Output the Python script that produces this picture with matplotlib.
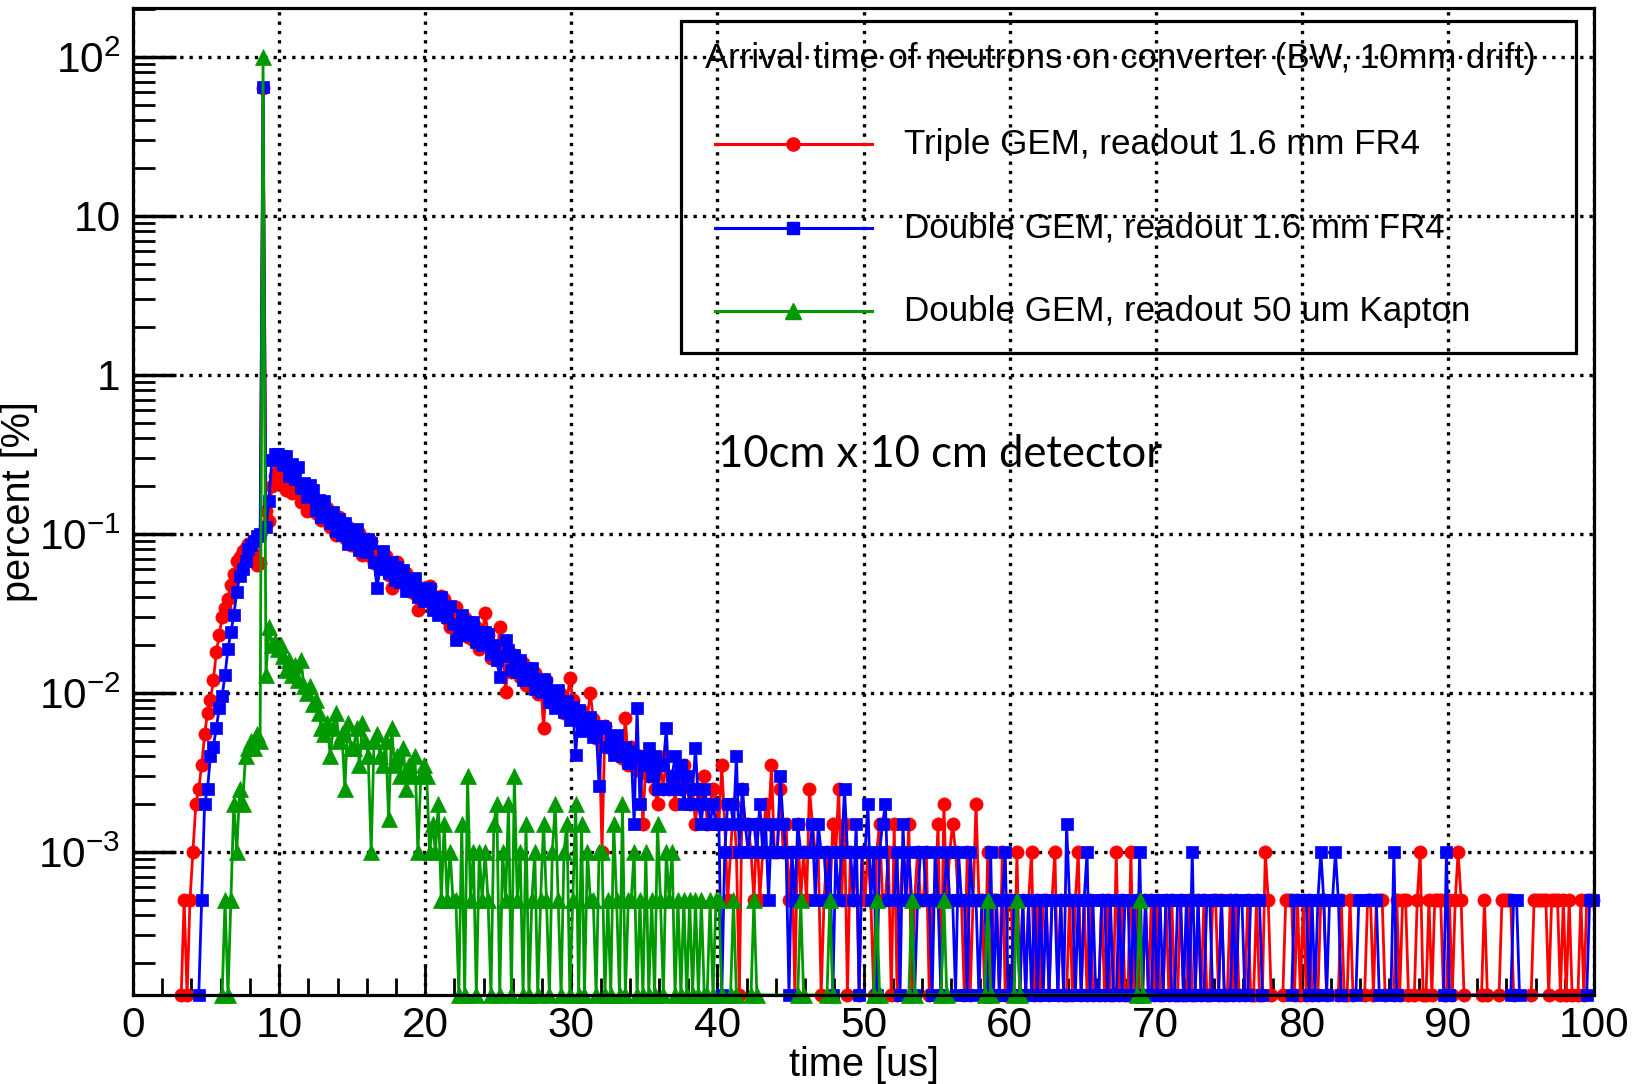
import matplotlib
matplotlib.use('Agg')
import matplotlib.pyplot as plt
import numpy as np
from matplotlib.ticker import MultipleLocator, FixedLocator, LogLocator, FuncFormatter, NullFormatter
from matplotlib.lines import Line2D
from matplotlib.patches import Rectangle

plt.rcParams['font.family'] = ['Liberation Sans', 'DejaVu Sans']
plt.rcParams['mathtext.fontset'] = 'custom'
plt.rcParams['mathtext.rm'] = 'Liberation Sans'

# histogram bins of 0.2 us, one entry = 5e-4 %
BIN = 0.2
ONE = 5e-4

# Triple GEM, readout 1.6 mm FR4 : percent from 3.3 us to 37.9 us
red_start = 3.3
red_pct = [
    0, 5e-4, 0, 5e-4, 1e-3, 2e-3, 2.5e-3, 3.5e-3, 5.5e-3, 7.5e-3,
    9e-3, 0.012, 0.018, 0.023, 0.030, 0.034, 0.039, 0.048, 0.056, 0.068,
    0.072, 0.078, 0.082, 0.086, 0.088, 0.075, 0.064, 0.066, 64.0, 0.14,
    0.12, 0.20, 0.23, 0.25, 0.21, 0.23, 0.19, 0.22, 0.18, 0.21,
    0.207, 0.158, 0.179, 0.14, 0.184, 0.147, 0.135, 0.16, 0.122, 0.146,
    0.146, 0.11, 0.126, 0.098, 0.127, 0.103, 0.094, 0.11, 0.085, 0.103,
    0.083, 0.101, 0.074, 0.088, 0.074, 0.09, 0.066, 0.075, 0.063, 0.077,
    0.073, 0.055, 0.046, 0.051, 0.067, 0.053, 0.049, 0.057, 0.0435, 0.052,
    0.042, 0.033, 0.038, 0.046, 0.039, 0.047, 0.034, 0.04, 0.033, 0.041,
    0.039, 0.029, 0.026, 0.026, 0.0345, 0.0276, 0.025, 0.0297, 0.0226, 0.027,
    0.0216, 0.0258, 0.019, 0.0223, 0.032, 0.023, 0.0167, 0.0198, 0.0162, 0.026,
    0.019, 0.0101, 0.0168, 0.0136, 0.0173, 0.0143, 0.0126, 0.0154, 0.0113, 0.014,
    0.0113, 0.0134, 0.0099, 0.0117, 0.006, 0.0121, 0.0088, 0.0101, 0.0085, 0.0102,
    0.0099, 0.0075, 0.0086, 0.0125, 0.009, 0.0071, 0.0066, 0.0077, 0.0059, 0.0071,
    0.010, 0.0069, 0.0052, 0.0061, 0.001, 0.0062, 0.0046, 0.0052, 0.0043, 0.0053,
    0.005, 0.0039, 0.007, 0.0035, 0.0046, 0.0036, 0.0033, 0.004, 0.0015, 0.0037,
    0.003, 0.0035, 0.0025, 0.002, 0.0035, 0.0025, 0.004, 0.0025, 0.003, 0.002,
    0.003, 0.0025, 0.0035, 0.003,
]
# entries per bin from 38.1 us to 99.9 us
red_tail = ("4535463454" "3731242053" "3213124372" "2523120312" "1532201213"
            "2513021202" "1210231120" "3012130121" "1201130412" "3211020141"
            "1020110201" "1020101201" "0110120100" "1012010100" "0101002010"
            "0201001010" "1001010010" "0100101001" "1010010100" "0100100210"
            "0000111010" "1010001100" "0001001000" "0011011100" "0010110001"
            "2001011100" "1012100000" "0010000011" "1100000001" "1111011101"
            "0100010111")

# Double GEM, readout 1.6 mm FR4 : percent from 4.3 us to 37.9 us
blue_start = 4.3
blue_pct = [
    0, 0, 5e-4, 2e-3, 2.5e-3, 4e-3, 4.6e-3, 6e-3, 8e-3, 0.0096,
    0.013, 0.019, 0.024, 0.031, 0.043, 0.054, 0.060, 0.068, 0.080, 0.085,
    0.090, 0.097, 0.10, 65.0, 0.11, 0.16, 0.29, 0.32, 0.32, 0.31,
    0.27, 0.31, 0.232, 0.276, 0.223, 0.265, 0.194, 0.208, 0.171, 0.203,
    0.19, 0.141, 0.163, 0.128, 0.161, 0.128, 0.117, 0.138, 0.104, 0.124,
    0.099, 0.118, 0.086, 0.106, 0.09, 0.107, 0.079, 0.09, 0.0765, 0.093,
    0.088, 0.067, 0.046, 0.06, 0.078, 0.063, 0.057, 0.067, 0.051, 0.062,
    0.0495, 0.059, 0.044, 0.052, 0.045, 0.053, 0.04, 0.045, 0.038, 0.046,
    0.045, 0.033, 0.039, 0.031, 0.04, 0.032, 0.03, 0.035, 0.027, 0.0215,
    0.026, 0.031, 0.023, 0.028, 0.023, 0.028, 0.021, 0.024, 0.02, 0.024,
    0.0235, 0.0176, 0.02, 0.016, 0.0126, 0.017, 0.0215, 0.0187, 0.0139, 0.0173,
    0.0135, 0.0162, 0.012, 0.0143, 0.0121, 0.0144, 0.0106, 0.0121, 0.0101, 0.0122,
    0.0116, 0.0088, 0.0102, 0.008, 0.0104, 0.0083, 0.0076, 0.0089, 0.0068, 0.0081,
    0.0041, 0.0078, 0.0058, 0.007, 0.006, 0.0071, 0.0053, 0.006, 0.0026, 0.0062,
    0.006, 0.0046, 0.0053, 0.0041, 0.0054, 0.0043, 0.004, 0.0046, 0.0036, 0.0043,
    0.0015, 0.008, 0.002, 0.004, 0.0035, 0.0045, 0.003, 0.004, 0.0025, 0.0035,
    0.0035, 0.006, 0.0025, 0.003, 0.004, 0.0025, 0.0035, 0.002, 0.003,
]
blue_tail = ("4594354343" "3024438253" "2332423132" "2632021322" "2231322120"
             "2125221302" "2412023411" "1203121012" "2110210121" "1021102110"
             "1102010120" "0110101010" "1010110103" "1101012010" "0110100101"
             "1010201001" "0101100110" "1020100110" "0010001011" "0011110000"
             "0000000111" "1101012101" "1210000001" "1111110000" "0200000000"
             "0000000002" "0000000000" "0000000000" "0011000000" "0000000000"
             "0000000011")

# Double GEM, readout 50 um Kapton : percent from 6.1 us to 19.9 us
green_start = 6.1
green_pct = [
    0, 5e-4, 0, 5e-4, 2e-3, 1e-3, 2.5e-3, 2e-3, 4e-3, 4.5e-3,
    5e-3, 4.5e-3, 5.5e-3, 5e-3, 100.0, 0.013, 0.026, 0.02, 0.021, 0.019,
    0.02, 0.017, 0.014, 0.016, 0.013, 0.015, 0.012, 0.016, 0.011, 0.01,
    0.011, 0.0085, 0.009, 0.0075, 0.006, 0.0055, 0.0065, 0.004, 0.006, 0.0075,
    0.005, 0.0055, 0.0025, 0.0065, 0.0045, 0.0045, 0.006, 0.0035, 0.0065, 0.005,
    0.004, 0.001, 0.005, 0.0055, 0.004, 0.0035, 0.005, 0.0016, 0.006, 0.0035,
    0.004, 0.003, 0.0045, 0.0025, 0.0035, 0.003, 0.004, 0.001, 0.003, 0.0035,
]
# entries per bin from 20.1 us to 69.9 us
green_tail = ("6232413121" "1030612021" "2103402140" "6120301201" "3102410230"
              "1403021102" "2010310401" "1201020103" "1021201010" "1010100101"
              "1000010000" "0010000000" "0000000010" "0000000010" "0000000000"
              "0000100000" "0000001000" "0000000100" "0000000000" "0010000000"
              "0010000000" "0000000000" "0000000000" "0000000000" "0000100000")

labels = ['Triple GEM, readout 1.6 mm FR4',
          'Double GEM, readout 1.6 mm FR4',
          'Double GEM, readout 50 um Kapton']
colors = ['#ff0000', '#0000ff', '#009900']
markers = [('o', 9.5), ('s', 9), ('^', 11)]

YMIN, YMAX = 1.26e-4, 203.0


def build(start, pct, tail):
    vals = np.array(list(pct) + [int(c) * ONE for c in tail])
    x = start + BIN * np.arange(len(vals))
    return x, vals


fig = plt.figure(figsize=(16.37, 10.84), dpi=100)
ax = fig.add_axes([0.08125, 0.0821, 0.8925, 0.9105])

series = [build(red_start, red_pct, red_tail),
          build(blue_start, blue_pct, blue_tail),
          build(green_start, green_pct, green_tail)]

for (x, v), c, (m, ms) in zip(series, colors, markers):
    y = np.where(v > 0, v, YMIN)
    ax.plot(x, y, '-', color=c, lw=2.0, zorder=2)
    nz = v > 0
    show = nz | np.r_[False, nz[:-1]] | np.r_[nz[1:], False]
    ax.plot(x[show], y[show], ls='none', marker=m, ms=ms, color=c,
            mec=c, mew=0.5, clip_on=False, zorder=2)

ax.set_yscale('log')
ax.set_xlim(0, 100)
ax.set_ylim(YMIN, YMAX)

ax.xaxis.set_major_locator(MultipleLocator(10))
ax.xaxis.set_minor_locator(MultipleLocator(2))
ax.yaxis.set_major_locator(FixedLocator([1e-3, 1e-2, 1e-1, 1, 10, 100]))
ax.yaxis.set_minor_locator(LogLocator(base=10, subs=np.arange(2, 10), numticks=30))
ax.yaxis.set_minor_formatter(NullFormatter())


def ylab(v, pos):
    e = int(round(np.log10(v)))
    if e == 0:
        return '1'
    if e == 1:
        return '10'
    return r'$\mathregular{10^{%d}}$' % e


ax.yaxis.set_major_formatter(FuncFormatter(ylab))
ax.xaxis.set_major_formatter(FuncFormatter(lambda v, p: '%d' % v))

ax.tick_params(axis='both', which='both', direction='in', top=False, right=False,
               labelsize=30.5)
ax.tick_params(axis='x', which='major', length=21, width=2, pad=8)
ax.tick_params(axis='x', which='minor', length=12, width=2)
ax.tick_params(axis='y', which='major', length=31, width=2.5, pad=9)
ax.tick_params(axis='y', which='minor', length=16, width=2)
for s in ax.spines.values():
    s.set_linewidth(2.3)

ax.grid(True, which='major', color='k', ls=(0, (1, 1.8)), lw=2.4)

ax.set_xlabel('time [us]', fontsize=28.6)
ax.set_ylabel('percent [%]', fontsize=28.6)
ax.xaxis.set_label_coords(0.5, -0.052)
ax.yaxis.set_label_coords(-0.065, 0.5)

# legend box
ax.add_patch(Rectangle((0.375, 0.6505), 0.6127, 0.3363, transform=ax.transAxes,
                       fill=False, ec='k', lw=2.3, clip_on=False, zorder=6))
ax.text(0.6756, 0.9493, 'Arrival time of neutrons on converter (BW, 10mm drift)',
        transform=ax.transAxes, ha='center', va='center', fontsize=25, zorder=6)
for yy, lab, c, (m, ms) in zip([0.8622, 0.7771, 0.6930], labels, colors, markers):
    ax.add_line(Line2D([0.3984, 0.5058], [yy, yy], transform=ax.transAxes,
                       color=c, lw=2.2, clip_on=False, zorder=6))
    ax.add_line(Line2D([0.4517], [yy], transform=ax.transAxes, ls='none',
                       marker=m, ms=ms, color=c, clip_on=False, zorder=6))
    ax.text(0.5277, yy, lab, transform=ax.transAxes, ha='left', va='center',
            fontsize=25.2, zorder=6)

ax.text(0.4004, 0.5481, '10cm x 10 cm detector', transform=ax.transAxes,
        ha='left', va='center', fontsize=31.4, family=['Lato', 'DejaVu Sans'])

fig.savefig('out.png', dpi=100)
